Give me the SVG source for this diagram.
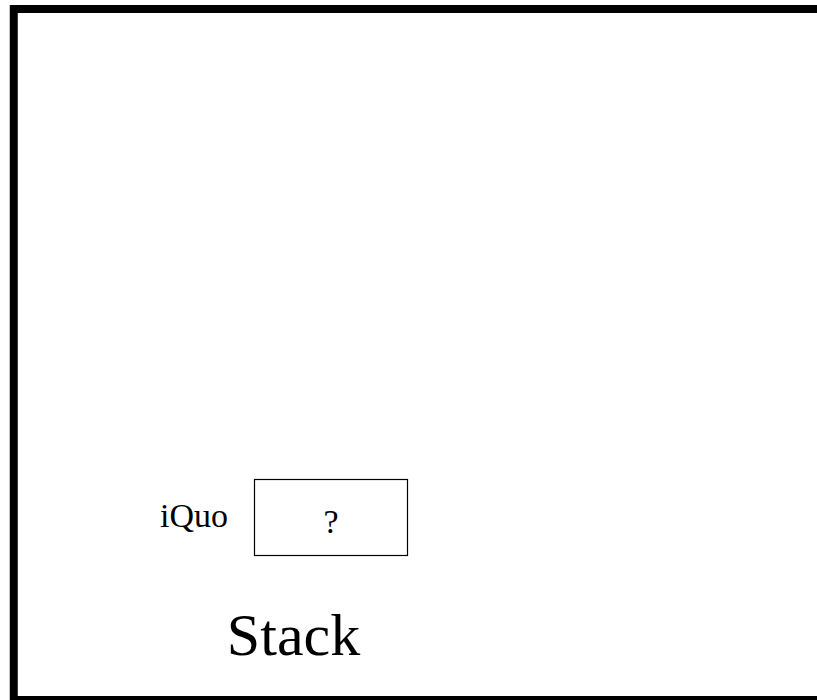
<svg xmlns="http://www.w3.org/2000/svg" width="817" height="700" viewBox="0 0 817 700">
<style>
.t{font-family:"Liberation Serif","Times New Roman",serif;fill:#000}
</style>
<rect width="817" height="700" fill="#fff"/>
<g id="frame">
<rect x="13.75" y="9" width="900" height="691" fill="none" stroke="#000" stroke-width="8"/>
</g>
<g id="iQuo">
<text class="t" x="160" y="527" font-size="34">iQuo</text>
<rect x="254.5" y="479.5" width="153" height="76" fill="none" stroke="#000" stroke-width="1.2"/>
<text class="t" x="331" y="533" font-size="34" text-anchor="middle">?</text>
</g>
<g id="label">
<text class="t" x="293.5" y="655" font-size="60" text-anchor="middle">Stack</text>
</g>
<g id="connectors"/>
</svg>
